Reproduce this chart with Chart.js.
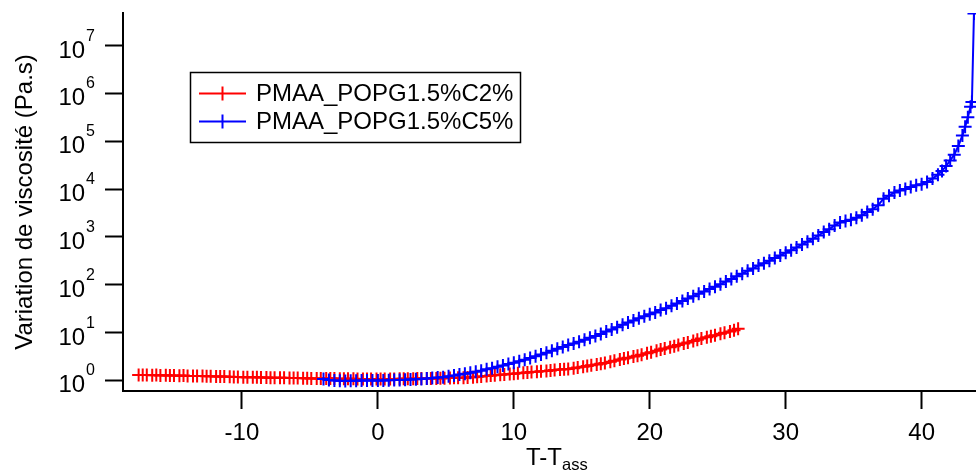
<!DOCTYPE html>
<html>
<head>
<meta charset="utf-8">
<script src="https://cdn.jsdelivr.net/npm/chart.js"></script>
<style>
  html, body { margin: 0; padding: 0; background: #fff; overflow: hidden; }
  #wrap { width: 976px; height: 472px; position: relative; }
</style>
</head>
<body>
<div id="wrap"><canvas id="viscChart"></canvas></div>
<script>
// series labels + colours
const seriesNames = ['PMAA_POPG1.5%C2%', 'PMAA_POPG1.5%C5%'];
const seriesColors = ['#ff0000', '#0000ff'];

// T - T_ass (x) and viscosity variation (Pa.s)
const redX = [
  -17.6, -17.3, -17.0, -16.6, -16.3, -16.0, -15.6, -15.3, -15.0, -14.6,
  -14.3, -14.0, -13.6, -13.3, -12.9, -12.6, -12.3, -11.9, -11.6, -11.3,
  -10.9, -10.6, -10.3, -9.9, -9.6, -9.2, -8.9, -8.6, -8.2, -7.9,
  -7.6, -7.2, -6.9, -6.5, -6.2, -5.9, -5.5, -5.2, -4.9, -4.5,
  -4.2, -3.8, -3.5, -3.2, -2.8, -2.5, -2.2, -1.8, -1.5, -1.1,
  -0.8, -0.5, -0.1, 0.2, 0.5, 0.9, 1.2, 1.6, 1.9, 2.2,
  2.6, 2.9, 3.2, 3.6, 3.9, 4.3, 4.6, 4.9, 5.3, 5.6,
  5.9, 6.3, 6.6, 7.0, 7.3, 7.6, 8.0, 8.3, 8.6, 9.0,
  9.3, 9.7, 10.0, 10.3, 10.7, 11.0, 11.3, 11.7, 12.0, 12.4,
  12.7, 13.0, 13.4, 13.7, 14.0, 14.4, 14.7, 15.1, 15.4, 15.7,
  16.1, 16.4, 16.7, 17.1, 17.4, 17.8, 18.1, 18.4, 18.8, 19.1,
  19.4, 19.8, 20.1, 20.5, 20.8, 21.1, 21.5, 21.8, 22.1, 22.5,
  22.8, 23.2, 23.5, 23.8, 24.2, 24.5, 24.8, 25.2, 25.5, 25.9,
  26.2, 26.5
];
const redY = [
  1.30, 1.29, 1.30, 1.28, 1.29, 1.27, 1.28, 1.26, 1.27, 1.25,
  1.26, 1.24, 1.24, 1.23, 1.23, 1.22, 1.22, 1.21, 1.21, 1.20,
  1.19, 1.18, 1.18, 1.17, 1.17, 1.16, 1.16, 1.15, 1.15, 1.14,
  1.14, 1.13, 1.13, 1.12, 1.12, 1.12, 1.11, 1.11, 1.10, 1.10,
  1.10, 1.09, 1.09, 1.09, 1.08, 1.08, 1.08, 1.08, 1.07, 1.07,
  1.07, 1.07, 1.07, 1.07, 1.07, 1.07, 1.07, 1.08, 1.08, 1.08,
  1.08, 1.09, 1.09, 1.09, 1.10, 1.10, 1.11, 1.11, 1.12, 1.13,
  1.13, 1.14, 1.15, 1.17, 1.19, 1.21, 1.24, 1.26, 1.28, 1.31,
  1.33, 1.36, 1.38, 1.41, 1.44, 1.46, 1.49, 1.52, 1.55, 1.58,
  1.61, 1.64, 1.68, 1.71, 1.74, 1.80, 1.85, 1.93, 2.00, 2.07,
  2.16, 2.24, 2.32, 2.44, 2.56, 2.73, 2.86, 2.98, 3.15, 3.29,
  3.45, 3.68, 3.87, 4.17, 4.41, 4.65, 4.95, 5.20, 5.47, 5.89,
  6.22, 6.70, 7.08, 7.48, 8.00, 8.41, 8.83, 9.42, 9.89, 10.5,
  11.2, 12.0
];

const blueX = [
  -4.0, -3.6, -3.2, -2.8, -2.4, -2.0, -1.6, -1.2, -0.8, -0.4,
  0.0, 0.4, 0.8, 1.2, 1.6, 2.0, 2.4, 2.8, 3.2, 3.6,
  4.0, 4.4, 4.8, 5.2, 5.6, 6.0, 6.4, 6.8, 7.2, 7.6,
  8.0, 8.4, 8.8, 9.2, 9.6, 10.0, 10.4, 10.8, 11.2, 11.6,
  12.0, 12.4, 12.8, 13.2, 13.6, 14.0, 14.4, 14.8, 15.2, 15.6,
  16.0, 16.4, 16.8, 17.2, 17.6, 18.0, 18.4, 18.8, 19.2, 19.6,
  20.0, 20.4, 20.8, 21.2, 21.6, 22.0, 22.4, 22.8, 23.2, 23.6,
  24.0, 24.4, 24.8, 25.2, 25.6, 26.0, 26.4, 26.8, 27.2, 27.6,
  28.0, 28.4, 28.8, 29.2, 29.6, 30.0, 30.4, 30.8, 31.2, 31.6,
  32.0, 32.4, 32.8, 33.2, 33.6, 34.0, 34.4, 34.8, 35.2, 35.6,
  36.0, 36.4, 36.8, 37.2, 37.6, 38.0, 38.4, 38.8, 39.2, 39.6,
  40.0, 40.4, 40.8, 41.2,
  41.5, 41.8, 42.1, 42.4, 42.7, 43.0, 43.2, 43.4, 43.6, 43.7, 43.85
];
const blueY = [
  1.07, 1.02, 0.99, 0.98, 0.97, 0.98, 0.98, 0.99, 0.99, 1.00,
  1.00, 1.00, 1.01, 1.02, 1.02, 1.03, 1.05, 1.06, 1.07, 1.10,
  1.12, 1.15, 1.17, 1.22, 1.26, 1.32, 1.38, 1.45, 1.51, 1.60,
  1.70, 1.80, 1.93, 2.04, 2.19, 2.34, 2.51, 2.69, 2.95, 3.20,
  3.47, 3.80, 4.17, 4.57, 5.01, 5.50, 5.89, 6.46, 7.08, 7.76,
  8.51, 9.33, 10.5, 11.6, 12.9, 14.5, 16.2, 17.8, 20.0, 21.9,
  24.0, 26.3, 29.5, 32.4, 36.3, 40.7, 45.7, 51.3, 57.5, 64.6,
  72.4, 81.3, 91.2, 102, 117, 132, 151, 170, 195, 219,
  251, 282, 316, 363, 407, 468, 525, 603, 692, 794,
  912, 1070, 1260, 1450, 1740, 2000, 2140, 2290, 2510, 2820,
  3310, 3800, 4570, 6310, 7240, 8510, 9330, 10000, 11000, 12000,
  12600, 14100, 16600, 20000,
  24000, 30200, 39800, 52500, 79400, 132000, 200000, 316000, 525000, 661000, 46800000
];

// axis ticks
const xTickValues = [-10, 0, 10, 20, 30, 40];
const yTickValues = [1, 10, 100, 1000, 10000, 100000, 1000000, 10000000];

const FONT = '"Liberation Sans", Arial, sans-serif';

function toPoints(xs, ys) {
    return xs.map((x, i) => ({ x: x, y: ys[i] }));
}

// draws the 10^n labels, axis titles and the boxed legend
const decorations = {
    id: 'decorations',
    afterDraw(chart) {
        const ctx = chart.ctx;
        const yScale = chart.scales.y;
        const area = chart.chartArea;
        ctx.save();
        ctx.fillStyle = '#000';
        ctx.textBaseline = 'alphabetic';

        // y tick labels with superscript exponent
        yTickValues.forEach(v => {
            const py = yScale.getPixelForValue(v);
            const exp = String(Math.round(Math.log10(v)));
            ctx.font = '16px ' + FONT;
            const supW = ctx.measureText(exp).width;
            ctx.textAlign = 'left';
            ctx.fillText(exp, 95 - supW, py - 5);
            ctx.font = '24px ' + FONT;
            ctx.textAlign = 'right';
            ctx.fillText('10', 94 - supW, py + 12);
        });

        // y axis title
        ctx.save();
        ctx.translate(32, (area.top + area.bottom) / 2);
        ctx.rotate(-Math.PI / 2);
        ctx.textAlign = 'center';
        ctx.font = '24px ' + FONT;
        ctx.fillText('Variation de viscosité (Pa.s)', 0, 0);
        ctx.restore();

        // x axis title T-T_ass
        ctx.textAlign = 'left';
        ctx.font = '24px ' + FONT;
        ctx.fillText('T-T', 526, 465);
        const tw = ctx.measureText('T-T').width;
        ctx.font = '16.5px ' + FONT;
        ctx.fillText('ass', 526 + tw, 470);

        // legend
        ctx.strokeStyle = '#000';
        ctx.lineWidth = 1.5;
        ctx.strokeRect(190.5, 72.5, 330, 70);
        seriesNames.forEach((name, i) => {
            const ly = 93.5 + i * 28;
            ctx.strokeStyle = seriesColors[i];
            ctx.lineWidth = 2;
            ctx.beginPath();
            ctx.moveTo(199, ly);
            ctx.lineTo(246, ly);
            ctx.moveTo(222.5, ly - 7);
            ctx.lineTo(222.5, ly + 7);
            ctx.stroke();
            ctx.fillStyle = '#000';
            ctx.font = '24px ' + FONT;
            ctx.textAlign = 'left';
            ctx.fillText(name, 256, ly + 7);
        });
        ctx.restore();
    }
};

function seriesDataset(i, xs, ys, order) {
    return {
        label: seriesNames[i],
        data: toPoints(xs, ys),
        showLine: true,
        borderColor: seriesColors[i],
        borderWidth: 2,
        pointStyle: 'cross',
        pointRadius: 6.5,
        pointBorderWidth: 2,
        pointBorderColor: seriesColors[i],
        pointBackgroundColor: seriesColors[i],
        tension: 0,
        fill: false,
        order: order
    };
}

const ctx = document.getElementById('viscChart').getContext('2d');
new Chart(ctx, {
    type: 'scatter',
    data: {
        datasets: [
            seriesDataset(0, redX, redY, 2),
            seriesDataset(1, blueX, blueY, 1)
        ]
    },
    options: {
        responsive: true,
        maintainAspectRatio: false,
        animation: false,
        layout: {
            autoPadding: false,
            padding: { top: 13, right: 0, bottom: 0, left: 0 }
        },
        scales: {
            x: {
                type: 'linear',
                min: -18.75,
                max: 44,
                afterBuildTicks: scale => {
                    scale.ticks = xTickValues.map(v => ({ value: v }));
                },
                afterFit: scale => {
                    scale.height = 81;
                    scale.paddingLeft = 0;
                    scale.paddingRight = 0;
                },
                border: { display: true, color: '#000', width: 2 },
                grid: {
                    drawOnChartArea: false,
                    drawTicks: true,
                    tickLength: 18,
                    tickWidth: 2,
                    tickColor: '#000'
                },
                ticks: {
                    color: '#000',
                    padding: 10,
                    maxRotation: 0,
                    font: { family: FONT, size: 24 }
                }
            },
            y: {
                type: 'logarithmic',
                min: 0.64,
                max: 4.8e7,
                afterBuildTicks: scale => {
                    scale.ticks = yTickValues.map(v => ({ value: v }));
                },
                afterFit: scale => {
                    scale.width = 123;
                    scale.paddingTop = 0;
                    scale.paddingBottom = 0;
                },
                border: { display: true, color: '#000', width: 2 },
                grid: {
                    drawOnChartArea: false,
                    drawTicks: true,
                    tickLength: 18,
                    tickWidth: 2,
                    tickColor: '#000'
                },
                ticks: { display: false }
            }
        },
        plugins: {
            legend: { display: false },
            tooltip: { enabled: false },
            title: { display: false }
        }
    },
    plugins: [decorations]
});
</script>
</body>
</html>
